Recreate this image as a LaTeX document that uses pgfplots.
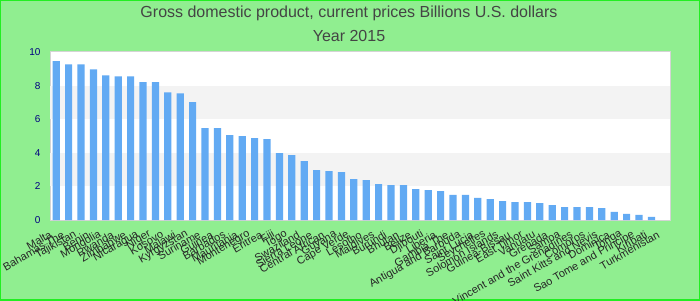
\documentclass[border=0pt]{standalone}
\usepackage{fontspec}
\setmainfont{Liberation Sans}
\usepackage{pgfplots}
\pgfplotsset{compat=1.18}
\definecolor{bg}{HTML}{90EE90}
\definecolor{frame}{HTML}{22EE22}
\definecolor{barc}{HTML}{62AAF3}
\definecolor{band}{HTML}{F3F3F3}
\definecolor{plotframe}{HTML}{D4D4D4}
\definecolor{titlec}{HTML}{444444}
\definecolor{ytc}{HTML}{000080}
\pgfplotstableread{
x y
0 9.45
1 9.27
2 9.27
3 8.97
4 8.61
5 8.55
6 8.55
7 8.20
8 8.20
9 7.60
10 7.54
11 7.01
12 5.47
13 5.47
14 5.05
15 4.99
16 4.87
17 4.81
18 3.98
19 3.86
20 3.50
21 2.97
22 2.91
23 2.85
24 2.44
25 2.38
26 2.14
27 2.08
28 2.08
29 1.84
30 1.78
31 1.72
32 1.49
33 1.49
34 1.31
35 1.25
36 1.13
37 1.07
38 1.07
39 1.01
40 0.89
41 0.77
42 0.77
43 0.77
44 0.71
45 0.48
46 0.36
47 0.30
48 0.18
}\gdp
\begin{document}
\begin{tikzpicture}[x=1bp,y=1bp]
\useasboundingbox (0,0) rectangle (700,300);
\fill[bg] (0,0) rectangle (700,300);
\draw[frame, line width=2bp] (0,0) rectangle (700,300);
\node[text=titlec, font=\fontsize{16bp}{19bp}\selectfont] at (349,287) {Gross domestic product, current prices Billions U.S. dollars};
\node[text=titlec, font=\fontsize{16bp}{19bp}\selectfont] at (349,264) {Year 2015};
\begin{axis}[at={(50bp,80bp)}, anchor=south west, scale only axis,
  width=620bp, height=168bp,
  ybar, bar width=7.2bp,
  ymin=0, ymax=10, xmin=-0.5, xmax=49.5,
  enlargelimits=false,
  ytick={0,2,...,10},
  xtick={0,...,49},
  xticklabels={Malta,Bahamas The,Tajikistan,Benin,Mongolia,Rwanda,Zimbabwe,Nicaragua,Niger,Kosovo,Malawi,Kyrgyzstan,Suriname,Guinea,Barbados,Mauritania,Montenegro,Eritrea,Fiji,Togo,Swaziland,Sierra Leone,Central African,Guyana,Cape Verde,Lesotho,Maldives,Burundi,Bhutan,Belize,Djibouti,Liberia,Gambia The,Antigua and Barbuda,Saint Lucia,Seychelles,Solomon Islands,Guinea-Bissau,East Timor,Vanuatu,Grenada,Samoa,Saint Vincent and the Grenadines,Comoros,Saint Kitts and Nevis,Dominica,Tonga,Sao Tome and Principe,Kiribati,Turkmenistan},
  major tick length=0,
  axis line style={draw=plotframe, line width=1bp},
  axis background/.style={fill=white},
  /pgf/number format/assume math mode=true,
  yticklabel style={font=\fontsize{10bp}{12bp}\selectfont, text=ytc, xshift=-6bp},
  xticklabel style={rotate=30, anchor=east, font=\fontsize{11bp}{13bp}\selectfont, text=black!85, xshift=-8bp, yshift=-9bp},
]
\fill[band] (axis cs:-0.5,2) rectangle (axis cs:49.5,4);
\fill[band] (axis cs:-0.5,6) rectangle (axis cs:49.5,8);
\addplot[draw=none, fill=barc] table[x=x,y=y] {\gdp};
\end{axis}
\end{tikzpicture}
\end{document}
